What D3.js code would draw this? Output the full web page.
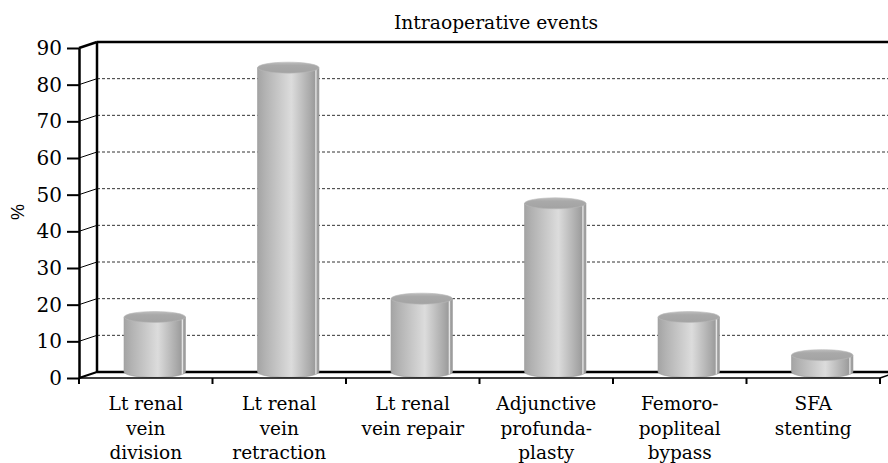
<!DOCTYPE html>
<html>
<head>
<meta charset="utf-8">
<script src="https://cdn.jsdelivr.net/npm/d3@7"></script>
<style>
  body { margin: 0; background: #fff; }
</style>
</head>
<body>
<script>
// values
let categories = [
    ["Lt renal", "vein", "division"],
    ["Lt renal", "vein", "retraction"],
    ["Lt renal", "vein repair"],
    ["Adjunctive", "profunda-", "plasty"],
    ["Femoro-", "popliteal", "bypass"],
    ["SFA", "stenting"]
];
let values = [15, 83, 20, 46, 15, 4.6];
let yTicks = [0, 10, 20, 30, 40, 50, 60, 70, 80, 90];

let width = 888, height = 463;
let dx = 18, dy = -6; // depth of the fake 3d box
let serif = "'DejaVu Serif', serif";

let svg = d3.select("body").append("svg")
    .attr("width", width)
    .attr("height", height);

let keys = categories.map((c, i) => i);

let x = d3.scaleBand()
    .domain(keys)
    .range([79, 880])
    .paddingInner(0.54)
    .paddingOuter(0.27);

let y = d3.scaleLinear()
    .domain([0, 90])
    .range([378, 48]);

// gradients for the cylinders
let defs = svg.append("defs");
let body = defs.append("linearGradient").attr("id", "cyl");
[[0, "#a4a4a4"], [0.12, "#b2b2b2"], [0.55, "#dcdcdc"], [0.86, "#a9a9a9"],
 [0.93, "#9c9c9c"], [0.95, "#ececec"], [0.97, "#a2a2a2"], [1, "#9a9a9a"]]
    .forEach(s => body.append("stop").attr("offset", s[0]).attr("stop-color", s[1]));
let cap = defs.append("linearGradient").attr("id", "cap")
    .attr("x1", 0).attr("y1", 0).attr("x2", 0).attr("y2", 1);
[[0, "#bdbdbd"], [0.3, "#a9a9a9"], [1, "#a3a3a3"]]
    .forEach(s => cap.append("stop").attr("offset", s[0]).attr("stop-color", s[1]));

let x0 = x.range()[0], x1 = x.range()[1];

// back wall gridlines
let grid = svg.append("g");
grid.selectAll("line.grid")
    .data(yTicks.filter(t => t > 0 && t < 90))
    .join("line")
    .attr("x1", x0 + dx).attr("x2", width + 20)
    .attr("y1", d => y(d) + dy).attr("y2", d => y(d) + dy)
    .attr("stroke", "#333")
    .attr("stroke-width", 1)
    .attr("stroke-dasharray", "3,2");

// side wall diagonals
grid.selectAll("line.diag")
    .data(yTicks.filter(t => t > 0 && t < 90))
    .join("line")
    .attr("x1", x0).attr("x2", x0 + dx)
    .attr("y1", d => y(d)).attr("y2", d => y(d) + dy)
    .attr("stroke", "#000")
    .attr("stroke-width", 1);

// box frame
let frame = svg.append("g").attr("stroke", "#000").attr("fill", "none");
frame.append("line") // back wall top
    .attr("x1", x0 + dx).attr("x2", width + 20)
    .attr("y1", y(90) + dy).attr("y2", y(90) + dy)
    .attr("stroke-width", 2.5);
frame.append("line") // back wall left edge
    .attr("x1", x0 + dx).attr("x2", x0 + dx)
    .attr("y1", y(90) + dy).attr("y2", y(0) + dy)
    .attr("stroke-width", 2.5);
frame.append("line") // top diagonal
    .attr("x1", x0).attr("x2", x0 + dx)
    .attr("y1", y(90)).attr("y2", y(90) + dy)
    .attr("stroke-width", 2.5);
frame.append("line") // back floor line
    .attr("x1", x0 + dx).attr("x2", width + 20)
    .attr("y1", y(0) + dy).attr("y2", y(0) + dy)
    .attr("stroke-width", 2.5);
frame.append("line") // bottom left diagonal
    .attr("x1", x0).attr("x2", x0 + dx)
    .attr("y1", y(0)).attr("y2", y(0) + dy)
    .attr("stroke-width", 2);
frame.append("line") // bottom right diagonal
    .attr("x1", x1).attr("x2", x1 + dx)
    .attr("y1", y(0)).attr("y2", y(0) + dy)
    .attr("stroke-width", 1.5);

// cylinders
let rx = x.bandwidth() / 2, ry = 5.5;
let bars = svg.append("g").selectAll("g")
    .data(values)
    .join("g");

bars.append("path")
    .attr("d", (d, i) => {
        let cx = x(i) + rx + dx / 2;
        let top = y(d) + dy, base = y(0) + dy;
        return `M${cx - rx},${top} L${cx - rx},${base} A${rx},${ry} 0 0 0 ${cx + rx},${base} L${cx + rx},${top} Z`;
    })
    .attr("fill", "url(#cyl)")
    .attr("stroke", "#9a9a9a")
    .attr("stroke-width", 0.6);

bars.append("ellipse")
    .attr("cx", (d, i) => x(i) + rx + dx / 2)
    .attr("cy", d => y(d) + dy)
    .attr("rx", rx)
    .attr("ry", ry)
    .attr("fill", "url(#cap)")
    .attr("stroke", "#b8b8b8")
    .attr("stroke-width", 0.6);

// front floor line and category ticks
let step = x.step();
let catTicks = d3.range(categories.length + 1).map(i => x0 + i * step);
svg.append("line")
    .attr("x1", x0).attr("x2", x1)
    .attr("y1", y(0)).attr("y2", y(0))
    .attr("stroke", "#000").attr("stroke-width", 1.5);
svg.append("g").selectAll("line")
    .data(catTicks)
    .join("line")
    .attr("x1", d => d).attr("x2", d => d)
    .attr("y1", y(0)).attr("y2", y(0) + 6)
    .attr("stroke", "#000").attr("stroke-width", 2);

// category labels
svg.append("g").selectAll("text")
    .data(categories)
    .join("text")
    .attr("x", (d, i) => x(i) + rx)
    .attr("y", 410)
    .attr("text-anchor", "middle")
    .style("font-family", serif)
    .style("font-size", "18.5px")
    .selectAll("tspan")
    .data(d => d)
    .join("tspan")
    .attr("x", function() { return this.parentNode.getAttribute("x"); })
    .attr("dy", (d, i) => i === 0 ? 0 : 24.5)
    .text(d => d);

// y axis
let yAxis = svg.append("g")
    .attr("transform", `translate(${x0},0)`)
    .call(d3.axisLeft(y).tickValues(yTicks).tickSize(12).tickSizeOuter(0).tickPadding(5));
yAxis.select(".domain").attr("stroke-width", 2.5);
yAxis.selectAll(".tick line").attr("stroke-width", 2);
yAxis.selectAll(".tick text")
    .style("font-family", serif)
    .style("font-size", "20px")
    .attr("fill", "#000");

// y title
svg.append("text")
    .attr("transform", "translate(24,212) rotate(-90)")
    .attr("text-anchor", "middle")
    .style("font-family", "'Liberation Sans', Arial, sans-serif")
    .style("font-size", "18px")
    .text("%");

// chart title
svg.append("text")
    .attr("x", 496)
    .attr("y", 29)
    .attr("text-anchor", "middle")
    .style("font-family", serif)
    .style("font-size", "18.7px")
    .text("Intraoperative events");
</script>
</body>
</html>
